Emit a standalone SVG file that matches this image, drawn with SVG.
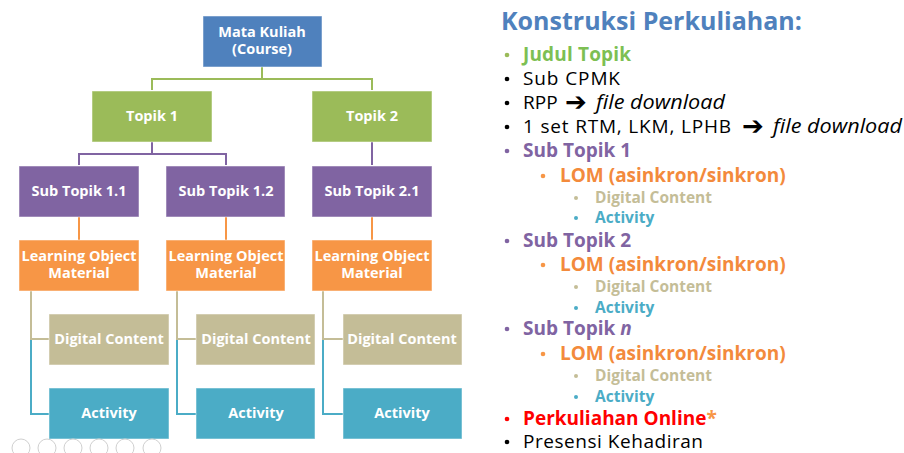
<svg xmlns="http://www.w3.org/2000/svg" width="904" height="453" viewBox="0 0 904 453">
<style>
.box{stroke:#ffffff;stroke-opacity:0.5;stroke-width:1}
.bt{font-family:"Open Sans","Liberation Sans",sans-serif;font-weight:bold;font-size:14.5px;fill:#fff;text-anchor:middle}
.c{fill:none;stroke-width:2}
.t{font-family:"Open Sans","Liberation Sans",sans-serif;font-size:19px}
.b{font-weight:bold}
.s{font-size:15.5px;font-weight:bold}
.ar{font-family:"DejaVu Sans",sans-serif;font-weight:bold;font-size:26px}
.it{font-style:italic;font-size:20px}
.ic{fill:none;stroke:#d0d0d0;stroke-width:1}
</style>
<rect width="904" height="453" fill="#fff"/>
<g id="connectors">
<path class="c" stroke="#9BBB59" d="M262 67V79M152 90V79H372V90"/>
<path class="c" stroke="#8064A2" d="M152 142V154M79 165V154H226V165M372 142V165"/>
<path class="c" stroke="#F79646" d="M79 217V240M226 217V240M372 217V240"/>
<path class="c" stroke="#C4BD97" d="M31 291V339H49M177 291V339H196M323 291V339H343"/>
<path class="c" stroke="#4BACC6" d="M31 340V414H49M177 340V414H196M323 340V414H343"/>
</g>
<g id="course"><rect class="box" x="203" y="16" width="119" height="51" fill="#4F81BD"/><text class="bt" x="262" y="37">Mata Kuliah</text><text class="bt" x="262" y="54">(Course)</text></g>
<g id="topik1"><rect class="box" x="92" y="91" width="120" height="51" fill="#9BBB59"/><text class="bt" x="152" y="121">Topik 1</text></g>
<g id="topik2"><rect class="box" x="312" y="91" width="120" height="51" fill="#9BBB59"/><text class="bt" x="372" y="121">Topik 2</text></g>
<g id="sub11"><rect class="box" x="19" y="166" width="120" height="51" fill="#8064A2"/><text class="bt" x="79" y="196">Sub Topik 1.1</text></g>
<g id="sub12"><rect class="box" x="166" y="166" width="119" height="51" fill="#8064A2"/><text class="bt" x="226" y="196">Sub Topik 1.2</text></g>
<g id="sub21"><rect class="box" x="312" y="166" width="120" height="51" fill="#8064A2"/><text class="bt" x="372" y="196">Sub Topik 2.1</text></g>
<g id="lom1"><rect class="box" x="19" y="240" width="120" height="51" fill="#F79646"/><text class="bt" x="79" y="261">Learning Object</text><text class="bt" x="79" y="278">Material</text></g>
<g id="lom2"><rect class="box" x="166" y="240" width="119" height="51" fill="#F79646"/><text class="bt" x="226" y="261">Learning Object</text><text class="bt" x="226" y="278">Material</text></g>
<g id="lom3"><rect class="box" x="312" y="240" width="120" height="51" fill="#F79646"/><text class="bt" x="372" y="261">Learning Object</text><text class="bt" x="372" y="278">Material</text></g>
<g id="dc1"><rect class="box" x="49" y="314" width="120" height="51" fill="#C4BD97"/><text class="bt" x="109" y="344">Digital Content</text></g>
<g id="dc2"><rect class="box" x="196" y="314" width="119" height="51" fill="#C4BD97"/><text class="bt" x="256" y="344">Digital Content</text></g>
<g id="dc3"><rect class="box" x="343" y="314" width="119" height="51" fill="#C4BD97"/><text class="bt" x="402" y="344">Digital Content</text></g>
<g id="act1"><rect class="box" x="49" y="388" width="120" height="51" fill="#4BACC6"/><text class="bt" x="109" y="418">Activity</text></g>
<g id="act2"><rect class="box" x="196" y="388" width="119" height="51" fill="#4BACC6"/><text class="bt" x="256" y="418">Activity</text></g>
<g id="act3"><rect class="box" x="343" y="388" width="119" height="51" fill="#4BACC6"/><text class="bt" x="402" y="418">Activity</text></g>
<g id="toolbar">
<circle class="ic" cx="21" cy="448" r="9"/><circle class="ic" cx="47" cy="448" r="9"/><circle class="ic" cx="73" cy="448" r="9"/><circle class="ic" cx="99" cy="448" r="9"/><circle class="ic" cx="125" cy="448" r="9"/><circle class="ic" cx="152" cy="448" r="9"/>
</g>
<g id="list" class="t">
<text x="501" y="30" font-size="25" font-weight="bold" fill="#4F81BD">Konstruksi Perkuliahan:</text>
<g fill="#000">
<circle cx="507" cy="55" r="2.3" fill="#9BBB59"/><text x="523" y="61" class="b" fill="#7DBF53" textLength="108">Judul Topik</text>
<circle cx="507" cy="79" r="2.3"/><text x="523" y="85" textLength="97">Sub CPMK</text>
<circle cx="507" cy="103" r="2.3"/><text x="523" y="109">RPP</text><text class="ar" x="565" y="111">➔</text><text class="it" x="596" y="109" textLength="129" lengthAdjust="spacingAndGlyphs">file download</text>
<circle cx="507" cy="127" r="2.3"/><text x="523" y="133" textLength="208">1 set RTM, LKM, LPHB</text><text class="ar" x="742" y="135">➔</text><text class="it" x="773" y="133" textLength="129" lengthAdjust="spacingAndGlyphs">file download</text>
<circle cx="507" cy="151" r="2.3" fill="#8064A2"/><text x="523" y="157" class="b" fill="#8064A2">Sub Topik 1</text>
<circle cx="543" cy="176" r="2.3" fill="#F79646"/><text x="560" y="182" class="b" fill="#F38A3C">LOM (asinkron/sinkron)</text>
<circle cx="576" cy="198" r="2" fill="#C4BD97"/><text x="595" y="203" class="s" fill="#C4BD97">Digital Content</text>
<circle cx="576" cy="218" r="2" fill="#4BACC6"/><text x="595" y="223" class="s" fill="#4BACC6">Activity</text>
<circle cx="507" cy="241" r="2.3" fill="#8064A2"/><text x="523" y="247" class="b" fill="#8064A2">Sub Topik 2</text>
<circle cx="543" cy="265" r="2.3" fill="#F79646"/><text x="560" y="271" class="b" fill="#F38A3C">LOM (asinkron/sinkron)</text>
<circle cx="576" cy="287" r="2" fill="#C4BD97"/><text x="595" y="292" class="s" fill="#C4BD97">Digital Content</text>
<circle cx="576" cy="308" r="2" fill="#4BACC6"/><text x="595" y="313" class="s" fill="#4BACC6">Activity</text>
<circle cx="507" cy="329" r="2.3" fill="#8064A2"/><text x="523" y="335" class="b" fill="#8064A2">Sub Topik <tspan font-style="italic">n</tspan></text>
<circle cx="543" cy="354" r="2.3" fill="#F79646"/><text x="560" y="360" class="b" fill="#F38A3C">LOM (asinkron/sinkron)</text>
<circle cx="576" cy="376" r="2" fill="#C4BD97"/><text x="595" y="381" class="s" fill="#C4BD97">Digital Content</text>
<circle cx="576" cy="397" r="2" fill="#4BACC6"/><text x="595" y="402" class="s" fill="#4BACC6">Activity</text>
<circle cx="507" cy="419" r="2.3" fill="#FF0000"/><text x="523" y="425" class="b" fill="#FF0000">Perkuliahan Online<tspan fill="#F79646">*</tspan></text>
<circle cx="507" cy="442" r="2.3"/><text x="523" y="448" textLength="180">Presensi Kehadiran</text>
</g>
</g>
</svg>
